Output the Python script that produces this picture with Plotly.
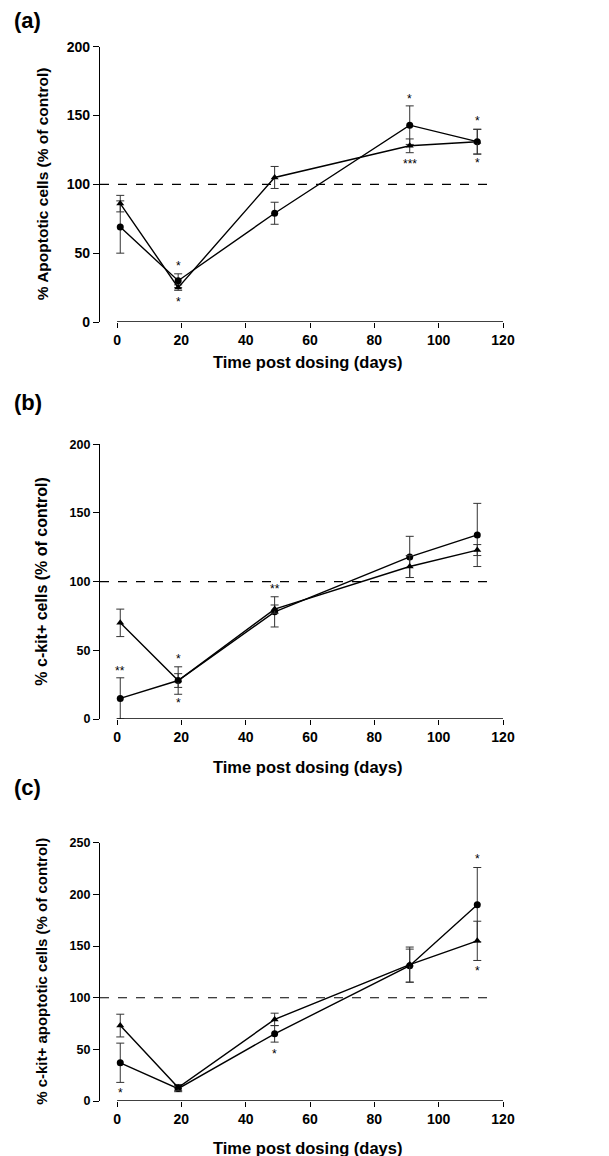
import plotly.graph_objects as go

# ---------------- data ----------------
days = [1, 19, 49, 91, 112]

a_circle = [69, 30, 79, 143, 131]
a_circle_err = [19, 5, 8, 14, 9]
a_tri = [86, 25, 105, 128, 131]
a_tri_err = [6, 2, 8, 5, 9]
a_stars_x = [19, 19, 91, 91, 112, 112]
a_stars_y = [43, 17, 164, 117, 148, 118]
a_stars_t = ["*", "*", "*", "***", "*", "*"]

b_circle = [15, 28, 78, 118, 134]
b_circle_err = [15, 10, 11, 15, 23]
b_tri = [70, 28, 80, 111, 123]
b_tri_err = [10, 5, 3, 8, 4]
b_stars_x = [1, 19, 19, 49]
b_stars_y = [37, 46, 14, 97]
b_stars_t = ["**", "*", "*", "**"]

c_circle = [37, 12, 65, 131, 190]
c_circle_err = [19, 3, 8, 16, 36]
c_tri = [73, 13, 79, 132, 155]
c_tri_err = [11, 3, 6, 17, 19]
c_stars_x = [1, 49, 112, 112]
c_stars_y = [11, 48, 237, 129]
c_stars_t = ["*", "*", "*", "*"]

x_ticks = [0, 20, 40, 60, 80, 100, 120]
control_level = 100
control_end_day = 116
x_min, x_max = -5.3, 120

# ---------------- layout helpers (page pixel -> paper) ----------------
OFF = 8                      # default body margin of the html page
Wf, Hf = 601, 1148
ML, MR, MT, MB = 92, 106, 20, 20
PW, PH = Wf - ML - MR, Hf - MT - MB


def px_x(px):
    return (px - OFF - ML) / PW


def px_y(py):
    return 1 - (py - OFF - MT) / PH


panels = [
    dict(label="(a)", ytitle="% Apoptotic cells (% of control)", ymax=200, ydtick=50,
         circle=a_circle, circle_err=a_circle_err, tri=a_tri, tri_err=a_tri_err,
         sx=a_stars_x, sy=a_stars_y, st=a_stars_t,
         top=46.7, bottom=322, label_y=21, xtitle_y=362, tickfont=14, ytitlefont=15.5),
    dict(label="(b)", ytitle="% c-kit+ cells (% of control)", ymax=200, ydtick=50,
         circle=b_circle, circle_err=b_circle_err, tri=b_tri, tri_err=b_tri_err,
         sx=b_stars_x, sy=b_stars_y, st=b_stars_t,
         top=444.3, bottom=719, label_y=403, xtitle_y=767, tickfont=12.5, ytitlefont=16),
    dict(label="(c)", ytitle="% c-kit+ apoptotic cells (% of control)", ymax=250, ydtick=50,
         circle=c_circle, circle_err=c_circle_err, tri=c_tri, tri_err=c_tri_err,
         sx=c_stars_x, sy=c_stars_y, st=c_stars_t,
         top=842.7, bottom=1101, label_y=787, xtitle_y=1148, tickfont=12.5, ytitlefont=15),
]

FONT = "Liberation Sans, Arial, sans-serif"

fig = go.Figure()
layout = dict(
    width=Wf, height=Hf,
    margin=dict(l=ML, r=MR, t=MT, b=MB),
    paper_bgcolor="white", plot_bgcolor="white",
    showlegend=False,
    font=dict(family=FONT, color="black"),
)
annotations = []
shapes = []

for i, p in enumerate(panels):
    n = "" if i == 0 else str(i + 1)
    xa, ya = "x" + n, "y" + n
    layout["xaxis" + n] = dict(
        domain=[0, 1], anchor=ya, range=[x_min, x_max],
        tickvals=x_ticks, ticks="outside", ticklen=5, tickwidth=1.2, tickcolor="black",
        showline=False, showgrid=False, zeroline=False,
        tickfont=dict(family=FONT, size=14, weight="bold"),
    )
    layout["yaxis" + n] = dict(
        domain=[px_y(p["bottom"]), px_y(p["top"])], anchor=xa, range=[0, p["ymax"]],
        dtick=p["ydtick"], ticks="outside", ticklen=6, tickwidth=1.2, tickcolor="black",
        showline=True, linecolor="black", linewidth=1.3,
        showgrid=False, zeroline=False,
        tickfont=dict(family=FONT, size=p["tickfont"], weight="bold"),
    )
    # x-axis line from 0 to 120
    shapes.append(dict(type="line", xref=xa, yref=ya, x0=x_ticks[0], x1=x_ticks[-1],
                       y0=0, y1=0, line=dict(color="black", width=1.3)))
    # control level dashed line
    shapes.append(dict(type="line", xref=xa, yref=ya, x0=x_min, x1=control_end_day,
                       y0=control_level, y1=control_level,
                       line=dict(color="black", width=1.1, dash="dash")))
    # series
    fig.add_trace(go.Scatter(
        x=days, y=p["circle"], xaxis=xa, yaxis=ya, mode="lines+markers",
        line=dict(color="black", width=1.4),
        marker=dict(symbol="circle", size=7, color="black"),
        error_y=dict(type="data", array=p["circle_err"], color="#333333", thickness=1, width=4),
        cliponaxis=False,
    ))
    fig.add_trace(go.Scatter(
        x=days, y=p["tri"], xaxis=xa, yaxis=ya, mode="lines+markers",
        line=dict(color="black", width=1.4),
        marker=dict(symbol="triangle-up", size=7, color="black"),
        error_y=dict(type="data", array=p["tri_err"], color="#333333", thickness=1, width=4),
        cliponaxis=False,
    ))
    # significance stars
    for sx, sy, st in zip(p["sx"], p["sy"], p["st"]):
        annotations.append(dict(x=sx, y=sy, xref=xa, yref=ya, text=st, showarrow=False,
                                yshift=-3, font=dict(family=FONT, size=12, color="black")))
    # panel label
    annotations.append(dict(x=px_x(12), y=px_y(p["label_y"]), xref="paper", yref="paper",
                            xanchor="left", yanchor="middle", text=p["label"], showarrow=False,
                            font=dict(family=FONT, size=22, weight="bold")))
    # axis titles
    annotations.append(dict(x=px_x(307), y=px_y(p["xtitle_y"]), xref="paper", yref="paper",
                            xanchor="center", yanchor="middle", text="Time post dosing (days)",
                            showarrow=False, font=dict(family=FONT, size=16.5, weight="bold")))
    annotations.append(dict(x=px_x(42), y=px_y((p["top"] + p["bottom"]) / 2),
                            xref="paper", yref="paper", xanchor="center", yanchor="middle",
                            textangle=-90, text=p["ytitle"], showarrow=False,
                            font=dict(family=FONT, size=p["ytitlefont"], weight="bold")))

layout["annotations"] = annotations
layout["shapes"] = shapes
fig.update_layout(**layout)
fig.write_html("out.html")
